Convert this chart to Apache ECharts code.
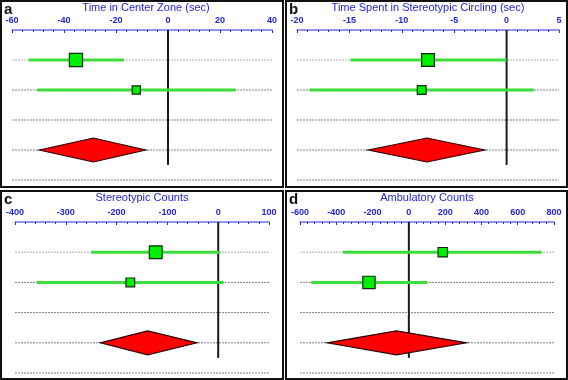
<!DOCTYPE html>
<html>
<head>
<meta charset="utf-8">
<script src="https://cdn.jsdelivr.net/npm/echarts@6/dist/echarts.min.js"></script>
<style>
  html, body { margin: 0; padding: 0; background: #fff; }
  #chart { width: 568px; height: 380px; }
</style>
</head>
<body>
<div id="chart"></div>
<script>
// one entry per panel (a, b, c, d)
const panelLetters = ['a', 'b', 'c', 'd'];
const panelTitles = [
  'Time in Center Zone (sec)',
  'Time Spent in Stereotypic Circling (sec)',
  'Stereotypic Counts',
  'Ambulatory Counts'
];
const axisMin = [-60, -20, -400, -600];
const axisMax = [40, 5, 100, 800];
const axisStep = [20, 5, 100, 200];

// two studies per panel: effect, CI, weight (%)
const studyMean = [[-35.4, -12.2], [-7.5, -8.1], [-123, -173], [187, -220]];
const studyLower = [[-53.6, -50.3], [-14.9, -18.8], [-250, -357], [-365, -538]];
const studyUpper = [[-16.9, 26.0], [0.0, 2.6], [4, 10], [732, 100]];
const studyWeight = [[72, 28], [68, 32], [68, 32], [37, 63]];

// pooled estimate (diamond)
const pooledMean = [-28.7, -7.6, -139, -68];
const pooledLower = [-49.5, -13.2, -232, -450];
const pooledUpper = [-8.6, -2.1, -42, 317];

const rows = [1, 2, 3, 4, 5];

// layout of the 4 boxes
const boxes = [
  { x: 0, y: 0, w: 283, h: 187 },
  { x: 285, y: 0, w: 282, h: 187 },
  { x: 0, y: 190, w: 283, h: 189 },
  { x: 285, y: 190, w: 282, h: 189 }
];
const grids = [
  { left: 12, top: 30, width: 260, height: 150 },
  { left: 297, top: 30, width: 262, height: 150 },
  { left: 15, top: 222, width: 254, height: 151 },
  { left: 300, top: 222, width: 254, height: 151 }
];
const titleX = [146, 428, 142, 427];

const FONT = '"Liberation Sans", Arial, sans-serif';
const BLUE = '#2424d4';

const chart = echarts.init(document.getElementById('chart'));

const graphics = [];
boxes.forEach((b, i) => {
  graphics.push({
    type: 'rect',
    shape: { x: b.x + 1, y: b.y + 1, width: b.w - 1, height: b.h - 1 },
    style: { fill: 'none', stroke: '#111', lineWidth: 2 },
    silent: true
  });
  graphics.push({
    type: 'text',
    style: {
      x: b.x + 4, y: b.y + 2, text: panelLetters[i],
      font: 'bold 15px ' + FONT, fill: '#111', textVerticalAlign: 'top'
    }
  });
  graphics.push({
    type: 'text',
    style: {
      x: titleX[i], y: b.y + 8, text: panelTitles[i],
      font: '11px ' + FONT, fill: BLUE, textAlign: 'center', textVerticalAlign: 'middle'
    }
  });
});

const xAxes = [];
const yAxes = [];
const series = [];

grids.forEach((g, i) => {
  const lo = axisMin[i];
  const hi = axisMax[i];

  xAxes.push({
    gridIndex: i,
    type: 'value',
    position: 'top',
    min: lo,
    max: hi,
    interval: axisStep[i],
    axisLine: { show: true, lineStyle: { color: '#7070e4', width: 1.5 } },
    axisTick: { show: true, inside: true, length: 3, lineStyle: { color: '#2a2ad0' } },
    minorTick: { show: true, splitNumber: 5, length: 2, lineStyle: { color: '#2a2ad0' } },
    splitLine: { show: false },
    axisLabel: {
      color: BLUE, fontSize: 9, fontWeight: 'bold', fontFamily: FONT, margin: 5,
      showMinLabel: true, showMaxLabel: true
    }
  });
  yAxes.push({ gridIndex: i, type: 'value', min: 0, max: 5, inverse: true, show: false });

  // dotted row guides
  series.push({
    type: 'custom',
    xAxisIndex: i, yAxisIndex: i, z: 1, silent: true,
    data: rows.map(r => [r]),
    renderItem: (params, api) => {
      const r = api.value(0);
      const p1 = api.coord([lo, r]);
      const p2 = api.coord([hi, r]);
      return {
        type: 'line',
        shape: { x1: p1[0], y1: p1[1], x2: p2[0], y2: p2[1] },
        style: { stroke: r === 1 ? '#b0b0b0' : '#808080', lineWidth: 1, lineDash: [2, 1] }
      };
    }
  });

  // zero line
  series.push({
    type: 'custom',
    xAxisIndex: i, yAxisIndex: i, z: 2, silent: true,
    data: [[0, 0, 4.5]],
    renderItem: (params, api) => {
      const p1 = api.coord([api.value(0), api.value(1)]);
      const p2 = api.coord([api.value(0), api.value(2)]);
      return {
        type: 'line',
        shape: { x1: p1[0], y1: p1[1], x2: p2[0], y2: p2[1] },
        style: { stroke: '#1a1a1a', lineWidth: 2 }
      };
    }
  });

  // confidence intervals
  series.push({
    type: 'custom',
    xAxisIndex: i, yAxisIndex: i, z: 3, silent: true,
    data: studyMean[i].map((m, k) => [studyLower[i][k], studyUpper[i][k], k + 1]),
    renderItem: (params, api) => {
      const p1 = api.coord([api.value(0), api.value(2)]);
      const p2 = api.coord([api.value(1), api.value(2)]);
      return {
        type: 'line',
        shape: { x1: p1[0], y1: p1[1], x2: p2[0], y2: p2[1] },
        style: { stroke: '#3cdc3c', lineWidth: 3 }
      };
    }
  });

  // study squares, size by weight
  series.push({
    type: 'scatter',
    xAxisIndex: i, yAxisIndex: i, z: 4, silent: true,
    symbol: 'rect',
    symbolSize: v => 15.5 * Math.sqrt(v[2] / 100),
    data: studyMean[i].map((m, k) => [m, k + 1, studyWeight[i][k]]),
    itemStyle: { color: '#00ee00', borderColor: '#0d2a0d', borderWidth: 1.2, opacity: 1 }
  });

  // pooled diamond
  series.push({
    type: 'custom',
    xAxisIndex: i, yAxisIndex: i, z: 4, silent: true,
    data: [[pooledLower[i], pooledMean[i], pooledUpper[i], 4]],
    renderItem: (params, api) => {
      const row = api.value(3);
      const l = api.coord([api.value(0), row]);
      const c = api.coord([api.value(1), row]);
      const r = api.coord([api.value(2), row]);
      return {
        type: 'polygon',
        shape: { points: [[l[0], c[1]], [c[0], c[1] - 12], [r[0], c[1]], [c[0], c[1] + 12]] },
        style: { fill: '#ff0000', stroke: '#2a0000', lineWidth: 1.2 }
      };
    }
  });
});

chart.setOption({
  animation: false,
  grid: grids.map(g => Object.assign({ containLabel: false }, g)),
  xAxis: xAxes,
  yAxis: yAxes,
  series: series,
  graphic: graphics
});
</script>
</body>
</html>
